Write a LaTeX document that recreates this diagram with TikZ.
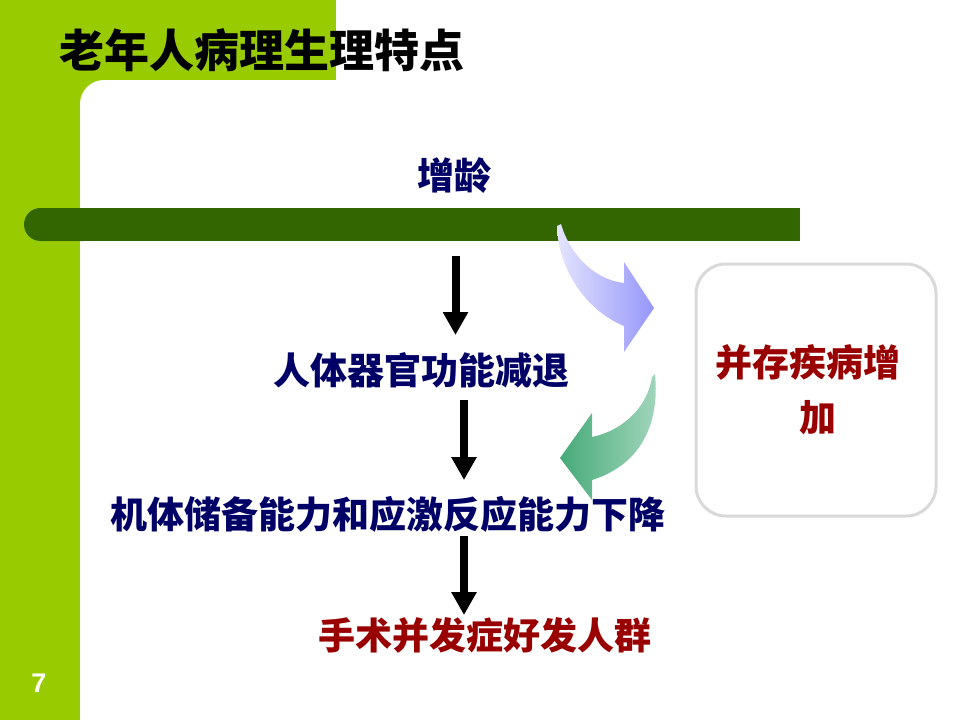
\documentclass[tikz,border=0pt]{standalone}
\usepackage{fontspec}
\newfontfamily\cjk{Noto Sans CJK SC}
\setsansfont{Liberation Sans}
\usetikzlibrary{arrows.meta}
\definecolor{lightgreen}{RGB}{153,204,0}
\definecolor{bargreen}{RGB}{51,102,0}
\definecolor{navy}{RGB}{0,0,102}
\definecolor{darkred}{RGB}{153,0,0}
\definecolor{boxgray}{RGB}{217,217,217}
\definecolor{blueL}{RGB}{228,228,255}
\definecolor{blueD}{RGB}{150,150,250}
\definecolor{greenD}{RGB}{70,170,120}
\definecolor{greenL}{RGB}{165,215,190}
\tikzset{
  bodytext/.style={font=\cjk\bfseries\fontsize{37}{40}\selectfont, text=navy, anchor=base, inner sep=0pt},
  redtext/.style={bodytext, text=darkred},
  downarrow/.style={line width=8pt, -{Triangle[width=24pt,length=23pt]}},
}
\begin{document}
\begin{tikzpicture}[x=1pt,y=-1pt]
\useasboundingbox (0,0) rectangle (960,720);
\fill[white] (0,0) rectangle (960,720);
% background green
\fill[lightgreen] (0,0) rectangle (336,80);
\fill[lightgreen] (0,0) rectangle (80,720);
\fill[lightgreen] (80,80) rectangle (110,110);
\fill[white, rounded corners=24] (80,80) rectangle (200,200);
% title
\node[font=\cjk\bfseries\fontsize{45}{50}\selectfont, anchor=base, inner sep=0pt] (title) at (262,67) {老年人病理生理特点};
% page number
\node[font=\sffamily\bfseries\fontsize{27}{30}\selectfont, text=white, inner sep=0pt] (page) at (39,683) {7};
% bar
\fill[bargreen, rounded corners=16.5] (24,208) rectangle (100,241);
\fill[bargreen] (60,208) rectangle (800,241);
% texts
\node[bodytext] (age) at (454,189) {增龄};
\node[bodytext] (organ) at (421,384) {人体器官功能减退};
\node[bodytext] (reserve) at (388,528) {机体储备能力和应激反应能力下降};
\node[redtext] (surg) at (485,649) {手术并发症好发人群};
% box
\node[draw=boxgray, line width=3pt, rounded corners=30, minimum width=240pt, minimum height=252pt, inner sep=0pt] (box) at (816,390) {};
\node[redtext] (co1) at (808,376) {并存疾病增};
\node[redtext] (co2) at (818,431) {加};
% black arrows
\coordinate (a1s) at (455.5,256);
\coordinate (a1e) at (455.5,335);
\coordinate (a2s) at (464,400);
\coordinate (a2e) at (464,480);
\coordinate (a3s) at (464,536);
\coordinate (a3e) at (464,615);
\draw[downarrow] (a1s) -- (a1e);
\draw[downarrow] (a2s) -- (a2e);
\draw[downarrow] (a3s) -- (a3e);
% curved blue arrow
\shade[left color=blueL, right color=blueD]
  (561,224) .. controls (570,255) and (595,280) .. (624,283)
  -- (624,262) -- (654,308) -- (624,352) -- (624,326)
  .. controls (585,310) and (558,268) .. (557,226) -- cycle;
% curved green arrow
\shade[left color=greenD, right color=greenL]
  (655,374) .. controls (660,425) and (640,465) .. (592,480)
  -- (592,500) -- (560,458) -- (592,413) -- (592,437)
  .. controls (625,430) and (648,405) .. (652,377) -- cycle;
\end{tikzpicture}
\end{document}
